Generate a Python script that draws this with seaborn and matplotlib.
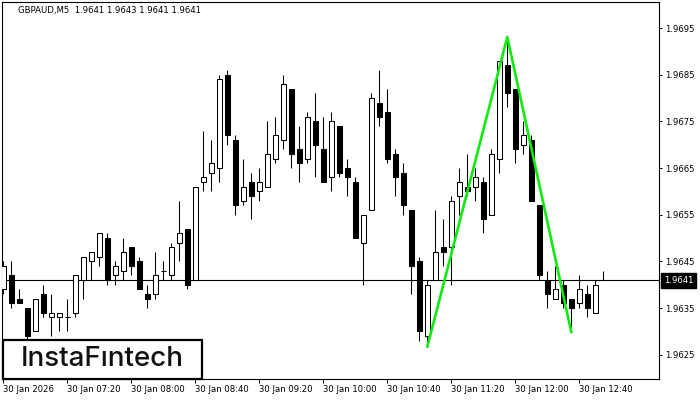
import matplotlib
matplotlib.use('Agg')

import matplotlib.pyplot as plt
from matplotlib.patches import Rectangle
import seaborn as sns
import pandas as pd
import numpy as np

# GBPAUD M5 candles, 30 Jan 2026 06:40 .. 12:55
opens = [1.9639, 1.9642, 1.9637, 1.9635, 1.9630, 1.9638, 1.9633, 1.9633, 1.9633, 1.9634,
         1.9641, 1.9645, 1.9646, 1.9650, 1.9642, 1.9643, 1.9648, 1.9645, 1.9638, 1.9638,
         1.9643, 1.9642, 1.9649, 1.9652, 1.9641, 1.9662, 1.9664, 1.9665, 1.9685, 1.9671,
         1.9658, 1.9662, 1.9660, 1.9661, 1.9667, 1.9671, 1.9682, 1.9669, 1.9667, 1.9675,
         1.9669, 1.9663, 1.9674, 1.9665, 1.9662, 1.9649, 1.9656, 1.9679, 1.9677, 1.9668,
         1.9664, 1.9656, 1.9645, 1.9629, 1.9641, 1.9648, 1.9648, 1.9659, 1.9661, 1.9661,
         1.9662, 1.9655, 1.9667, 1.9687, 1.9682, 1.9670, 1.9671, 1.9657, 1.9641, 1.9637,
         1.9640, 1.9637, 1.9636, 1.9638, 1.9634, 1.9641]
highs = [1.9645, 1.9645, 1.9639, 1.9635, 1.9637, 1.9640, 1.9638, 1.9634, 1.9637, 1.9642,
         1.9646, 1.9647, 1.9651, 1.9651, 1.9645, 1.9650, 1.9648, 1.9646, 1.9640, 1.9647,
         1.9645, 1.9649, 1.9658, 1.9652, 1.9661, 1.9673, 1.9671, 1.9685, 1.9686, 1.9672,
         1.9667, 1.9664, 1.9665, 1.9675, 1.9676, 1.9685, 1.9682, 1.9674, 1.9677, 1.9681,
         1.9676, 1.9677, 1.9674, 1.9667, 1.9663, 1.9655, 1.9681, 1.9686, 1.9682, 1.9669,
         1.9666, 1.9656, 1.9646, 1.9641, 1.9656, 1.9654, 1.9659, 1.9665, 1.9668, 1.9665,
         1.9663, 1.9669, 1.9688, 1.9693, 1.9682, 1.9675, 1.9672, 1.9657, 1.9643, 1.9644,
         1.9641, 1.9637, 1.9642, 1.9640, 1.9641, 1.9643]
lows = [1.9638, 1.9635, 1.9636, 1.9628, 1.9630, 1.9633, 1.9629, 1.9630, 1.9630, 1.9633,
        1.9637, 1.9641, 1.9644, 1.9640, 1.9640, 1.9641, 1.9642, 1.9639, 1.9635, 1.9637,
        1.9641, 1.9641, 1.9645, 1.9639, 1.9641, 1.9660, 1.9660, 1.9662, 1.9670, 1.9655,
        1.9657, 1.9654, 1.9658, 1.9661, 1.9666, 1.9669, 1.9665, 1.9662, 1.9666, 1.9663,
        1.9662, 1.9660, 1.9663, 1.9659, 1.9650, 1.9640, 1.9656, 1.9674, 1.9666, 1.9659,
        1.9655, 1.9638, 1.9628, 1.9627, 1.9641, 1.9644, 1.9640, 1.9655, 1.9659, 1.9658,
        1.9651, 1.9655, 1.9664, 1.9678, 1.9666, 1.9668, 1.9658, 1.9641, 1.9635, 1.9637,
        1.9635, 1.9631, 1.9635, 1.9633, 1.9634, 1.9641]
closes = [1.9644, 1.9636, 1.9636, 1.9629, 1.9637, 1.9634, 1.9634, 1.9634, 1.9633, 1.9642,
          1.9646, 1.9647, 1.9651, 1.9641, 1.9644, 1.9647, 1.9644, 1.9639, 1.9637, 1.9642,
          1.9643, 1.9648, 1.9651, 1.9640, 1.9661, 1.9663, 1.9666, 1.9684, 1.9672, 1.9657,
          1.9661, 1.9659, 1.9662, 1.9668, 1.9672, 1.9683, 1.9668, 1.9666, 1.9676, 1.9670,
          1.9662, 1.9675, 1.9664, 1.9663, 1.9650, 1.9655, 1.9680, 1.9676, 1.9667, 1.9663,
          1.9657, 1.9644, 1.9630, 1.9640, 1.9647, 1.9647, 1.9658, 1.9662, 1.9660, 1.9663,
          1.9654, 1.9668, 1.9688, 1.9681, 1.9669, 1.9672, 1.9658, 1.9642, 1.9638, 1.9639,
          1.9636, 1.9635, 1.9639, 1.9635, 1.9640, 1.9641]

tick_bars = [0, 8, 16, 24, 32, 40, 48, 56, 64, 72]
tick_labels = ['30 Jan 2026', '30 Jan 07:20', '30 Jan 08:00', '30 Jan 08:40', '30 Jan 09:20',
               '30 Jan 10:00', '30 Jan 10:40', '30 Jan 11:20', '30 Jan 12:00', '30 Jan 12:40']
price_ticks = [1.9625, 1.9635, 1.9645, 1.9655, 1.9665, 1.9675, 1.9685, 1.9695]

# double top pattern: low - peak - low
pattern_bars = [53, 63, 71]
pattern_prices = [1.96267, 1.96931, 1.96298]

last_price = 1.9641
title = 'GBPAUD,M5  1.9641 1.9643 1.9641 1.9641'


def main():
    sns.set_style('white')
    plt.rcParams['font.family'] = ['DejaVu Sans']

    df = pd.DataFrame({'open': opens, 'high': highs, 'low': lows, 'close': closes})
    df['bar'] = np.arange(len(df))
    up = df['close'] >= df['open']
    body_lo = df[['open', 'close']].min(axis=1)
    body_h = np.maximum((df['close'] - df['open']).abs(), 0.000004)

    fig = plt.figure(figsize=(7, 4), dpi=100)
    ax = fig.add_axes([2 / 700, 21 / 400, 657 / 700, 377 / 400])

    ax.axhline(last_price, color='black', lw=0.8, zorder=1)

    # wicks then bodies
    ax.vlines(df['bar'], df['low'], df['high'], color='black', lw=0.75, zorder=2)
    ax.bar(df['bar'], body_h, bottom=body_lo, width=0.6,
           color=np.where(up, 'white', 'black'), edgecolor='black', linewidth=0.75, zorder=3)

    sns.lineplot(x=pattern_bars, y=pattern_prices, color='#10ea10', lw=1.9, sort=False, ax=ax, zorder=4)

    ax.set_xlim(-0.16, 81.96)
    ax.set_ylim(1.96198, 1.97006)

    ax.set_xticks(tick_bars)
    ax.set_xticklabels(tick_labels, ha='left')
    ax.set_yticks(price_ticks)
    ax.set_yticklabels(['%.4f' % p for p in price_ticks])
    ax.tick_params(axis='x', bottom=True, direction='out', length=3, width=0.7, pad=1.5,
                   labelsize=6.1, colors='black')
    ax.tick_params(axis='y', left=False, right=True, labelleft=False, labelright=True,
                   direction='out', length=2.5, width=0.7, pad=2, labelsize=6.1, colors='black')
    for s in ax.spines.values():
        s.set_color('black')
        s.set_linewidth(0.8)

    # current price tag
    ax.text(1.0075, last_price, '%.4f' % last_price, transform=ax.get_yaxis_transform(),
            ha='left', va='center', color='white', fontsize=6.1, clip_on=False,
            bbox=dict(boxstyle='square,pad=0.35', fc='black', ec='black'))

    fig.text(18 / 700, 1 - 10 / 400, title, ha='left', va='center', fontsize=6.1, color='black')

    # logo
    fig.add_artist(Rectangle((3 / 700, 21 / 400), 199 / 700, 39 / 400, transform=fig.transFigure,
                             facecolor='white', edgecolor='black', lw=1.6, zorder=5))
    fig.text(102 / 700, 1 - 359 / 400, 'InstaFıntech', ha='center', va='center', fontsize=20,
             weight='medium', family=['Inter', 'DejaVu Sans'], color='#111111', zorder=6)

    fig.savefig('out.png', dpi=100)


if __name__ == "__main__":
    main()
